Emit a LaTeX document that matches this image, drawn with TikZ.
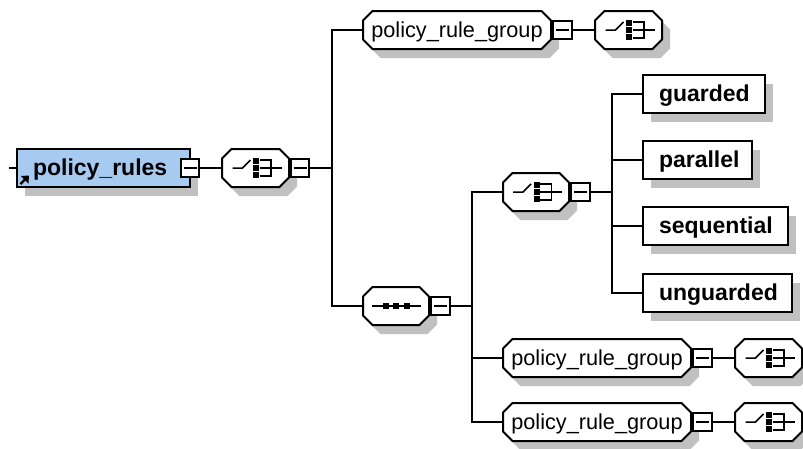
\documentclass[tikz,border=0pt]{standalone}
\usepackage{fontspec}
\setmainfont{Liberation Sans}
\usetikzlibrary{shadows}
\definecolor{shadowgray}{HTML}{C0C0C0}
\definecolor{elemblue}{HTML}{A6CAF0}
\newcommand{\regfont}{\fontsize{21.7}{24}\selectfont}
\newcommand{\boldfont}{\fontsize{23}{26}\selectfont\bfseries}
\tikzset{
  x=1pt,y=-1pt,
  conn/.style={draw=black,line width=2pt},
  drop/.style={general shadow={fill=shadowgray,shadow xshift=8pt,shadow yshift=-9pt}},
  octaface/.style={draw=black,line width=2pt,fill=white},
  octanode/.style={rectangle,minimum width=#1,minimum height=38pt,inner sep=0pt,outer sep=0pt,
    text height=14pt,text depth=0pt,font=\regfont},
  elem/.style={rectangle,draw=black,line width=2pt,fill=white,drop,minimum height=38pt,
    inner xsep=16pt,inner ysep=0pt,outer sep=0pt,text height=14pt,text depth=0pt,
    align=left,font=\boldfont,text width=#1},
  minusbox/.style={rectangle,draw=black,line width=2pt,fill=white,minimum width=#1,minimum height=18pt,inner sep=0pt,outer sep=0pt},
  choiceicon/.pic={
    \draw[line width=1.5pt] (-23,0) -- (-13,0) -- (-5,-8);
    \fill (-2.5,-10) rectangle (3.5,-4);
    \fill (-2.5,-3) rectangle (3.5,3);
    \fill (-2.5,4) rectangle (3.5,10);
    \draw[line width=1.5pt] (4,-8) -- (15.5,-8) -- (15.5,8) -- (4,8);
    \draw[line width=1.5pt] (4,0) -- (26,0);
  },
  seqicon/.pic={
    \draw[line width=1.5pt] (-24,0) -- (25,0);
    \fill (-13,-3) rectangle (-7,3);
    \fill (-3,-3) rectangle (3,3);
    \fill (7.5,-3) rectangle (13.5,3);
  },
  minusicon/.pic={\draw[line width=1.5pt] (-6.5,0) -- (6.5,0);},
}
% name, centre x, centre y, outer width, text
\newcommand{\octa}[5]{%
  \fill[shadowgray,shift={(8pt,-9pt)}]
    (#2-#4/2+10.5,#3-19) -- (#2+#4/2-10.5,#3-19) -- (#2+#4/2-1,#3-9.5) -- (#2+#4/2-1,#3+9.5)
    -- (#2+#4/2-10.5,#3+19) -- (#2-#4/2+10.5,#3+19) -- (#2-#4/2+1,#3+9.5) -- (#2-#4/2+1,#3-9.5) -- cycle;
  \path[octaface]
    (#2-#4/2+10.5,#3-19) -- (#2+#4/2-10.5,#3-19) -- (#2+#4/2-1,#3-9.5) -- (#2+#4/2-1,#3+9.5)
    -- (#2+#4/2-10.5,#3+19) -- (#2-#4/2+10.5,#3+19) -- (#2-#4/2+1,#3+9.5) -- (#2-#4/2+1,#3-9.5) -- cycle;
  \node[octanode=#4 pt - 2pt] (#1) at (#2,#3) {#5};%
}
\begin{document}
\begin{tikzpicture}
\useasboundingbox (0,0) rectangle (803,448);
\clip (0,0) rectangle (803,448);
\fill[white] (0,0) rectangle (803,448);

% nodes
\node[elem=141pt,fill=elemblue] (root) at (103.5,168) {policy\_rules};
\node[minusbox=18pt] (m0) at (190,168) {};
\octa{c0}{255.5}{168}{69}{}
\node[minusbox=18pt] (m1) at (300,168) {};

\octa{g1}{457}{30}{190}{policy\_rule\_group}
\node[minusbox=19pt] (mg1) at (562.5,30) {};
\octa{cg1}{628.5}{30}{69}{}

\octa{s0}{396}{306}{68}{}
\node[minusbox=19pt] (ms0) at (440.5,306) {};

\octa{c2}{536}{192}{68}{}
\node[minusbox=19pt] (mc2) at (580.5,192) {};

\node[elem=90pt]  (guarded) at (704,94) {guarded};
\node[elem=77pt]  (parallel) at (697.5,160) {parallel};
\node[elem=113pt] (sequential) at (715.5,226) {sequential};
\node[elem=117pt] (unguarded) at (717.5,293) {unguarded};

\octa{g2}{597}{358}{190}{policy\_rule\_group}
\node[minusbox=19pt] (mg2) at (702.5,358) {};
\octa{cg2}{768.5}{358}{69}{}

\octa{g3}{597}{422}{190}{policy\_rule\_group}
\node[minusbox=19pt] (mg3) at (702.5,422) {};
\octa{cg3}{768.5}{422}{69}{}

% junctions
\coordinate (stub) at (9,168);
\coordinate (j1) at (332,168);
\coordinate (j2) at (472,306);
\coordinate (j3) at (612,192);

% connectors
\draw[conn] (stub) -- (root);
\draw[conn] (m0) -- (c0);
\draw[conn] (m1) -- (j1);
\draw[conn] (j1) |- (g1);
\draw[conn] (j1) |- (s0);
\draw[conn] (mg1) -- (cg1);
\draw[conn] (ms0) -- (j2);
\draw[conn] (j2) |- (c2);
\draw[conn] (j2) |- (g2);
\draw[conn] (j2) |- (g3);
\draw[conn] (mc2) -- (j3);
\draw[conn] (j3) |- (guarded);
\draw[conn] (j3) |- (parallel);
\draw[conn] (j3) |- (sequential);
\draw[conn] (j3) |- (unguarded);
\draw[conn] (mg2) -- (cg2);
\draw[conn] (mg3) -- (cg3);

% icons
\foreach \n in {c0,cg1,c2,cg2,cg3} \pic at (\n) {choiceicon};
\pic at (s0) {seqicon};
\foreach \n in {m0,m1,mg1,ms0,mc2,mg2,mg3} \pic at (\n) {minusicon};

% reference arrow
\draw[line width=2.2pt] (root.south west) ++(3.5,-3) -- ++(7,-7);
\fill (root.south west) ++(12,-11.5) -- ++(-8,0.5) -- ++(7.5,7.5) -- cycle;
\end{tikzpicture}
\end{document}
